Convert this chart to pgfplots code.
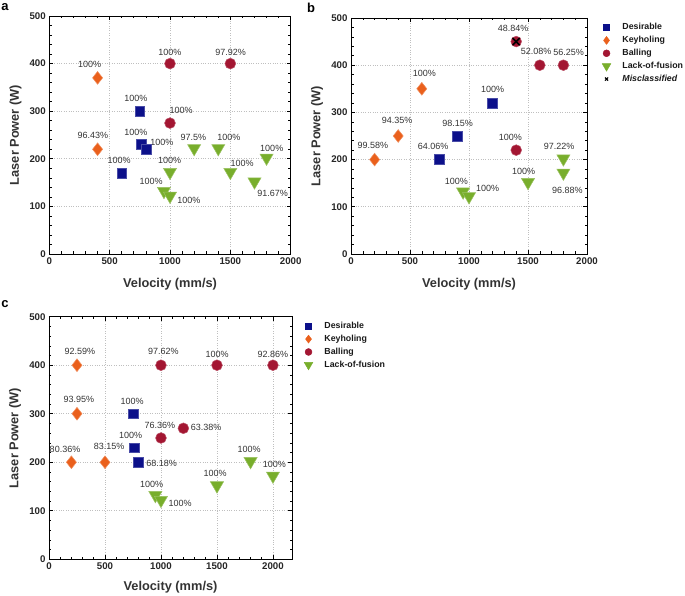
\documentclass[border=0pt]{standalone}
\usepackage{pgfplots}
\pgfplotsset{compat=1.18}
\usepackage{fontspec}
\setmainfont{Liberation Sans}

\definecolor{cdes}{RGB}{12,16,138}
\definecolor{ckey}{RGB}{234,96,28}
\definecolor{cbal}{RGB}{163,22,50}
\definecolor{clof}{RGB}{120,174,44}

\pgfplotsset{
  panel/.style={
    scale only axis, xmin=0, xmax=2000, ymin=0, ymax=500,
    xtick={0,500,...,2000}, ytick={0,100,...,500},
    minor x tick num=4, minor y tick num=4,
    tick align=inside, major tick length=4pt, minor tick length=2.5pt,
    tick style={black, line width=0.6pt},
    grid=major, major grid style={dotted, black!25, line width=0.6pt},
    axis line style={line width=0.8pt},
    /pgf/number format/assume math mode=true,
    /pgf/number format/1000 sep={},
    tick label style={font=\fontsize{9.7}{11}\selectfont\bfseries, text=black!85},
    xlabel={Velocity (mm/s)}, ylabel={Laser Power (W)},
    label style={font=\fontsize{12.8}{14}\selectfont\bfseries, text=black!80},
    clip=false,
  },
  des/.style={only marks, mark=square*, mark size=4.9pt, mark options={fill=cdes, draw=cdes!75!white, line width=0.5pt}},
  key/.style={only marks, mark=diamond*, mark size=6.4pt, mark options={xscale=1.05, fill=ckey, draw=ckey!70!white, line width=0.5pt}},
  bal/.style={only marks, mark=*, mark size=5.4pt, mark options={fill=cbal, draw=cbal!75!white, line width=0.5pt}},
  lof/.style={only marks, mark=triangle*, mark size=7.6pt, mark options={rotate=180, fill=clof, draw=clof!75!white, line width=0.5pt}},
  mis/.style={only marks, mark=x, mark size=5pt, mark options={draw=black, line width=1.6pt}},
  leg/.style={
    legend image code/.code={\draw[##1] plot coordinates {(0pt,0pt)};},
    legend style={at={(1,1)}, anchor=north west, draw=none, fill=none, inner sep=0pt,
      font=\fontsize{8.8}{10}\selectfont\bfseries, text=black!90,
      nodes={text height=6.5pt, text depth=1.9pt, inner sep=1.6pt},
      row sep=1.3pt,
      /tikz/every odd column/.append style={column sep=10pt}},
    legend cell align=left,
  },
}
\newcommand{\lab}[3]{\node[font=\fontsize{9}{10}\selectfont, text=black!80, inner sep=0pt] at (axis cs:#1,#2) {#3\%};}

\begin{document}
\begin{tikzpicture}[x=1pt,y=1pt]
\useasboundingbox (0pt,0pt) rectangle (685pt,596pt);

% panel letters
\node[font=\fontsize{13}{14}\selectfont\bfseries] at (5pt,588.5pt) {a};
\node[font=\fontsize{13}{14}\selectfont\bfseries] at (311pt,588.5pt) {b};
\node[font=\fontsize{13}{14}\selectfont\bfseries] at (5pt,291.5pt) {c};

% ---------------- panel a ----------------
\begin{axis}[panel, at={(49.3pt,342pt)}, anchor=south west, width=241.4pt, height=238pt,
  xlabel style={at={(axis description cs:0.5,-0.125)}, anchor=center},
  ylabel style={at={(axis description cs:-0.14,0.5)}, anchor=center}]
\addplot[key, forget plot] coordinates {(400,370) (400,220)};
\addplot[des, forget plot] coordinates {(750,300) (760,230) (800,220) (600,170)};
\addplot[bal, forget plot] coordinates {(1000,400) (1500,400) (1000,275)};
\addplot[lof, forget plot] coordinates {(1000,172) (950,132) (1000,122) (1200,222) (1400,222) (1500,172) (1700,152) (1800,202)};
\lab{334}{399}{100}
\lab{362}{249}{96.43}
\lab{717}{326}{100}
\lab{717}{255}{100}
\lab{932}{234}{100}
\lab{579}{196}{100}
\lab{999}{424}{100}
\lab{1503}{424}{97.92}
\lab{1092}{301}{100}
\lab{996}{196}{100}
\lab{844}{152}{100}
\lab{1156}{112}{100}
\lab{1194}{245}{97.5}
\lab{1487}{245}{100}
\lab{1597}{191}{100}
\lab{1851}{128}{91.67}
\lab{1843}{222}{100}
\end{axis}

% ---------------- panel b ----------------
\begin{axis}[panel, leg, at={(351pt,342pt)}, anchor=south west, width=236pt, height=236pt,
  legend style={xshift=15pt, yshift=-3.5pt},
  xlabel style={at={(axis description cs:0.5,-0.127)}, anchor=center},
  ylabel style={at={(axis description cs:-0.144,0.5)}, anchor=center}]
\addplot[key, forget plot] coordinates {(600,350) (400,250) (200,200)};
\addplot[des, forget plot] coordinates {(1200,320) (900,250) (750,200)};
\addplot[bal, forget plot] coordinates {(1400,450) (1600,400) (1800,400) (1400,220)};
\addplot[lof, forget plot] coordinates {(950,132) (1000,122) (1500,152) (1800,202) (1800,172)};
\addplot[mis, forget plot] coordinates {(1400,450)};
\addlegendimage{only marks, mark=square*, mark size=3pt, mark options={fill=cdes, draw=cdes}}
\addlegendimage{only marks, mark=diamond*, mark size=4pt, mark options={fill=ckey, draw=ckey}}
\addlegendimage{only marks, mark=*, mark size=3.5pt, mark options={fill=cbal, draw=cbal}}
\addlegendimage{only marks, mark=triangle*, mark size=5pt, mark options={rotate=180, fill=clof, draw=clof}}
\addlegendimage{only marks, mark=x, mark size=2.2pt, mark options={draw=black, line width=1.2pt}}
\legend{Desirable, Keyholing, Balling, Lack-of-fusion, \textit{Misclassified}}
\lab{1373}{477}{48.84}
\lab{1568}{429}{52.08}
\lab{1845}{427}{56.25}
\lab{621}{382}{100}
\lab{390}{283}{94.35}
\lab{186}{230}{99.58}
\lab{1200}{349}{100}
\lab{904}{276}{98.15}
\lab{695}{228}{64.06}
\lab{1350}{248}{100}
\lab{1763}{228}{97.22}
\lab{1833}{134}{96.88}
\lab{1463}{175}{100}
\lab{893}{153}{100}
\lab{1158}{139}{100}
\end{axis}

% ---------------- panel c ----------------
\begin{axis}[panel, leg, at={(49pt,36.7pt)}, anchor=south west, width=243pt, height=242.6pt, xmax=2170,
  legend style={xshift=12pt, yshift=-3.5pt},
  xlabel style={at={(axis description cs:0.5,-0.117)}, anchor=center},
  ylabel style={at={(axis description cs:-0.14,0.5)}, anchor=center}]
\addplot[key, forget plot] coordinates {(250,400) (250,300) (200,200) (500,200)};
\addplot[des, forget plot] coordinates {(750,300) (760,230) (800,200)};
\addplot[bal, forget plot] coordinates {(1000,400) (1500,400) (2000,400) (1000,250) (1200,270)};
\addplot[lof, forget plot] coordinates {(1800,202) (2000,172) (1500,152) (950,132) (1000,122)};
\addlegendimage{only marks, mark=square*, mark size=3pt, mark options={fill=cdes, draw=cdes}}
\addlegendimage{only marks, mark=diamond*, mark size=4pt, mark options={fill=ckey, draw=ckey}}
\addlegendimage{only marks, mark=*, mark size=3.5pt, mark options={fill=cbal, draw=cbal}}
\addlegendimage{only marks, mark=triangle*, mark size=5pt, mark options={rotate=180, fill=clof, draw=clof}}
\legend{Desirable, Keyholing, Balling, Lack-of-fusion}
\lab{275}{428}{92.59}
\lab{266}{330}{93.95}
\lab{143}{227}{80.36}
\lab{537}{232}{83.15}
\lab{1021}{428}{97.62}
\lab{1501}{423}{100}
\lab{2000}{423}{92.86}
\lab{743}{326}{100}
\lab{991}{275}{76.36}
\lab{1403}{272}{63.38}
\lab{728}{255}{100}
\lab{1006}{198}{68.18}
\lab{1788}{227}{100}
\lab{2012}{195}{100}
\lab{1484}{177}{100}
\lab{916}{154}{100}
\lab{1170}{115}{100}
\end{axis}
\end{tikzpicture}
\end{document}
